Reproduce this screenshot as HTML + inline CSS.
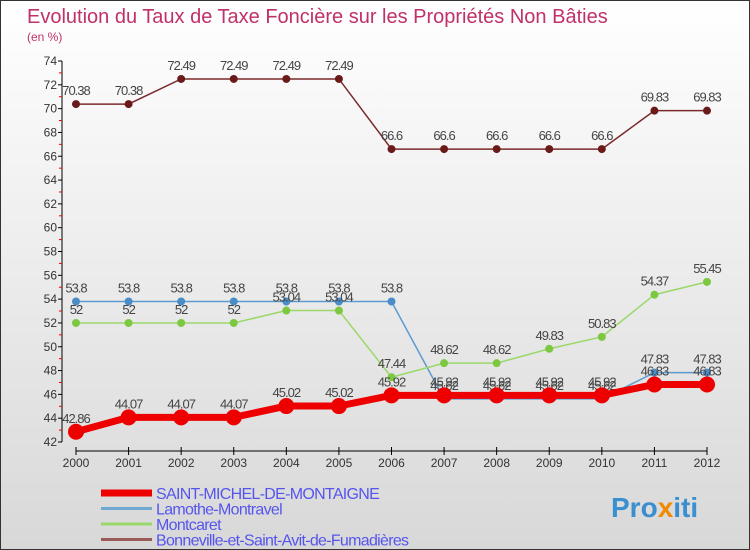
<!DOCTYPE html>
<html><head><meta charset="utf-8"><style>
body{margin:0}
#c{width:750px;height:550px;position:relative;box-sizing:border-box;border:1px solid #333;background:linear-gradient(#fff,#d8d8d8);font-family:"Liberation Sans",sans-serif;overflow:hidden}
</style></head><body>
<div id="c">
<svg id="s" width="750" height="550" style="position:absolute;left:0;top:0" font-family="Liberation Sans, sans-serif">
<text x="26" y="22" font-size="20" fill="#c0306a">Evolution du Taux de Taxe Foncière sur les Propriétés Non Bâties</text>
<text x="26" y="40" font-size="12" fill="#c0306a">(en %)</text>
<g id="g"></g>
<text x="610" y="516" font-size="28" font-weight="bold" fill="#3a8fd0">Pro<tspan fill="#f08a00">x</tspan>iti</text>
</svg>
</div>
<script>
const years=["2000","2001","2002","2003","2004","2005","2006","2007","2008","2009","2010","2011","2012"];
const yTicks=[42,44,46,48,50,52,54,56,58,60,62,64,66,68,70,72,74];
const saint=[42.86,44.07,44.07,44.07,45.02,45.02,45.92,45.92,45.92,45.92,45.92,46.83,46.83];
const lamothe=[53.8,53.8,53.8,53.8,53.8,53.8,53.8,45.62,45.62,45.62,45.62,47.83,47.83];
const montcaret=[52,52,52,52,53.04,53.04,47.44,48.62,48.62,49.83,50.83,54.37,55.45];
const bonne=[70.38,70.38,72.49,72.49,72.49,72.49,66.6,66.6,66.6,66.6,66.6,69.83,69.83];
const NS="http://www.w3.org/2000/svg",g=document.getElementById('g');
const X=i=>75+i*(706-75)/(years.length-1);
const Y=v=>441-(v-42)*(441-60)/(74-42);
function el(t,a,txt){const e=document.createElementNS(NS,t);for(const k in a)e.setAttribute(k,a[k]);if(txt!==undefined)e.textContent=txt;g.appendChild(e);return e;}
let e=el('line',{x1:61,y1:60,x2:61,y2:441,stroke:'#000'});


e=el('line',{x1:75,y1:450,x2:706,y2:450,stroke:'#000'});


yTicks.forEach((v,i)=>{
 el('line',{x1:57,x2:61,y1:Y(v),y2:Y(v),stroke:'#000'});
 if(i<yTicks.length-1)el('line',{x1:58,x2:61,y1:Y(v+1),y2:Y(v+1),stroke:'#e00'});
 e=el('text',{x:56,y:Y(v)+4,'font-size':12,'text-anchor':'end',fill:'#333'},v);
 
 
});
years.forEach((y,i)=>{
 el('line',{x1:X(i),x2:X(i),y1:446,y2:454,stroke:'#000'});
 e=el('text',{x:X(i),y:466,'font-size':12,'text-anchor':'middle',fill:'#333'},y);
 
 
});
function series(d,color,w,r,name,dotColor){
 e=el('polyline',{points:d.map((v,i)=>X(i)+','+Y(v)).join(' '),fill:'none',stroke:color,'stroke-width':w});
 
 
 d.forEach((v,i)=>{
  e=el('circle',{cx:X(i),cy:Y(v),r:r,fill:dotColor});
  
  
  e=el('text',{x:X(i),y:Y(v)-9,'font-size':13,'text-anchor':'middle',fill:'#444','letter-spacing':'-1'},String(v));
  
  
 });
}
series(bonne,'#7a2a2a',1.5,4,'bonneville','#6b1a1a');
series(lamothe,'#5b9bd0',1.5,4,'lamothe','#4a8cc8');
series(montcaret,'#9ad86a',1.5,4,'montcaret','#7cc840');
series(saint,'#ee0000',7,8,'saint-michel','#ee0000');
const leg=[['SAINT-MICHEL-DE-MONTAIGNE','#ee0000',7],['Lamothe-Montravel','#6fa8d0',3],['Montcaret','#9ad86a',3],['Bonneville-et-Saint-Avit-de-Fumadières','#9a5a5a',3]];
leg.forEach((l,i)=>{
 const y=492+i*15.5;
 e=el('line',{x1:100,x2:151,y1:y,y2:y,stroke:l[1],'stroke-width':l[2]});
 
 
 e=el('text',{x:155,y:y+6,'font-size':16,fill:'#5555ee','letter-spacing':'-0.7'},l[0]);
 
 
});
</script>
</body></html>
